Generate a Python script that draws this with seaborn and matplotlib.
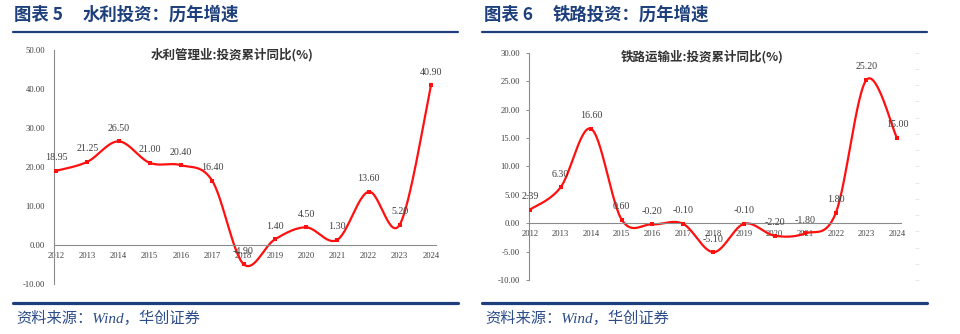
import numpy as np
import pandas as pd
import matplotlib
matplotlib.use("Agg")
import matplotlib.pyplot as plt
from matplotlib.lines import Line2D
import seaborn as sns

sns.set_theme(style="white")
plt.rcParams["font.family"] = ["Liberation Serif", "Noto Sans CJK SC", "DejaVu Sans"]

# ---- data -------------------------------------------------------------
years = list(range(2012, 2025))
year_labels = [str(y) for y in years]

water_growth = [18.95, 21.25, 26.50, 21.00, 20.40, 16.40, -4.90,
                1.40, 4.50, 1.30, 13.60, 5.20, 40.90]
rail_growth = [2.39, 6.30, 16.60, 0.60, -0.20, -0.10, -5.10,
               -0.10, -2.20, -1.80, 1.80, 25.20, 15.00]

panel_numbers = ["图表 5", "图表 6"]
panel_titles = ["水利投资：历年增速", "铁路投资：历年增速"]
series_titles = ["水利管理业:投资累计同比(%)", "铁路运输业:投资累计同比(%)"]
source_text = "资料来源：Wind，华创证券"

water_yticks = [-10, 0, 10, 20, 30, 40, 50]
rail_yticks = [-10, -5, 0, 5, 10, 15, 20, 25, 30]

# ---- styling ----------------------------------------------------------
W, H = 960, 334
NAVY = "#1d3f7c"
RED = "#ff1010"
AXIS = "#8c8c8c"
TXT = "#404040"


def smooth_curve(x, y, n=30):
    """Cardinal (Catmull-Rom) spline through the points, as used for smoothed lines."""
    x = np.asarray(x, float)
    y = np.asarray(y, float)
    m = len(x)
    tx = np.empty(m)
    ty = np.empty(m)
    tx[1:-1] = (x[2:] - x[:-2]) / 2
    ty[1:-1] = (y[2:] - y[:-2]) / 2
    tx[0], ty[0] = (x[1] - x[0]) / 2, (y[1] - y[0]) / 2
    tx[-1], ty[-1] = (x[-1] - x[-2]) / 2, (y[-1] - y[-2]) / 2
    t = np.linspace(0, 1, n, endpoint=False)
    h00 = 2 * t**3 - 3 * t**2 + 1
    h10 = t**3 - 2 * t**2 + t
    h01 = -2 * t**3 + 3 * t**2
    h11 = t**3 - t**2
    xs, ys = [], []
    for i in range(m - 1):
        xs.append(h00 * x[i] + h10 * tx[i] + h01 * x[i + 1] + h11 * tx[i + 1])
        ys.append(h00 * y[i] + h10 * ty[i] + h01 * y[i + 1] + h11 * ty[i + 1])
    xs.append([x[-1]])
    ys.append([y[-1]])
    return np.concatenate(xs), np.concatenate(ys)


def px_axes(left, top, right, bottom):
    return fig.add_axes([left / W, 1 - bottom / H, (right - left) / W, (bottom - top) / H])


fig = plt.figure(figsize=(W / 100, H / 100), dpi=100)
fig.patch.set_facecolor("white")

panels = [
    dict(values=water_growth, yticks=water_yticks, box=(54, 49.5, 436, 284),
         x0=56, step=31.25, ylim=(-10, 50), title_x=14, line=(13, 458),
         sub_x=232, sub_y=55, twin=False),
    dict(values=rail_growth, yticks=rail_yticks, box=(529, 52.7, 901, 280),
         x0=530, step=30.58, ylim=(-10, 30), title_x=484, line=(482, 927),
         sub_x=702, sub_y=57, twin=True),
]

for i, p in enumerate(panels):
    left, top, right, bottom = p["box"]
    ax = px_axes(left, top, right, bottom)
    ax.set_facecolor("none")

    df = pd.DataFrame({"year": years, "value": p["values"]})
    cx, cy = smooth_curve(df["year"], df["value"])
    curve = pd.DataFrame({"year": cx, "value": cy})

    sns.lineplot(data=curve, x="year", y="value", ax=ax, color=RED, lw=1.6,
                 sort=False, estimator=None)
    sns.scatterplot(data=df, x="year", y="value", ax=ax, color=RED, marker="s",
                    s=7, linewidth=0, zorder=4)

    for xv, yv in zip(df["year"], df["value"]):
        ax.annotate(f"{yv:.2f}", (xv, yv), xytext=(0, 9.4), textcoords="offset points",
                    ha="center", va="center", fontsize=7.2, color=TXT,
                    family=["Liberation Serif"], zorder=5)

    xmin = years[0] - (p["x0"] - left) / p["step"]
    xmax = years[0] + (right - p["x0"]) / p["step"]
    ax.set_xlim(xmin, xmax)
    ax.set_ylim(*p["ylim"])
    ax.set_xticks(years)
    ax.set_xticklabels(year_labels)
    ax.set_yticks(p["yticks"])
    ax.set_yticklabels([f"{v:.2f}" for v in p["yticks"]])
    ax.set_xlabel("")
    ax.set_ylabel("")

    for s in ("top", "right"):
        ax.spines[s].set_visible(False)
    ax.spines["bottom"].set_position(("data", 0))
    for s in ("left", "bottom"):
        ax.spines[s].set_color(AXIS)
        ax.spines[s].set_linewidth(0.8)
    ax.tick_params(axis="both", which="major", direction="out", length=2.5, width=0.7,
                   color=AXIS, labelsize=6.2, labelcolor=TXT, pad=2.5)
    ax.tick_params(axis="y", pad=4)
    for lab in ax.get_xticklabels() + ax.get_yticklabels():
        lab.set_family(["Liberation Serif"])

    if p["twin"]:
        ax2 = ax.twinx()
        ax2.set_ylim(*p["ylim"])
        ax2.set_yticks(np.linspace(p["ylim"][0], p["ylim"][1], 15))
        ax2.tick_params(axis="y", length=3, width=0.6, color="#e4e4e4",
                        labelright=False, direction="out")
        for s in ax2.spines.values():
            s.set_visible(False)
        ax2.spines["right"].set_position(("outward", 10))
        ax2.grid(False)

    # panel heading, rules and source
    fig.text(p["title_x"] / W, 1 - 15 / H, panel_numbers[i], fontsize=12.5,
             fontweight="bold", color=NAVY, va="center", ha="left",
             family=["Noto Sans CJK SC"])
    fig.text((p["title_x"] + 69) / W, 1 - 15 / H, panel_titles[i], fontsize=12.5,
             fontweight="bold", color=NAVY, va="center", ha="left",
             family=["Noto Sans CJK SC"])
    x1, x2 = p["line"]
    fig.add_artist(Line2D([x1 / W, x2 / W], [1 - 32 / H, 1 - 32 / H],
                          color=NAVY, lw=1.6, transform=fig.transFigure))
    fig.add_artist(Line2D([x1 / W, x2 / W], [1 - 303 / H, 1 - 303 / H],
                          color=NAVY, lw=2.3, transform=fig.transFigure))
    fig.text((x1 + 3) / W, 1 - 318 / H, source_text, fontsize=11, color="#2d4d8a",
             style="italic", va="center", ha="left",
             family=["Liberation Serif", "Noto Sans CJK SC"])
    fig.text(p["sub_x"] / W, 1 - p["sub_y"] / H, series_titles[i], fontsize=9,
             fontweight="bold", color="#333333", va="center", ha="center",
             family=["Noto Sans CJK SC", "DejaVu Sans"])

fig.savefig("out.png", dpi=100, facecolor="white")
